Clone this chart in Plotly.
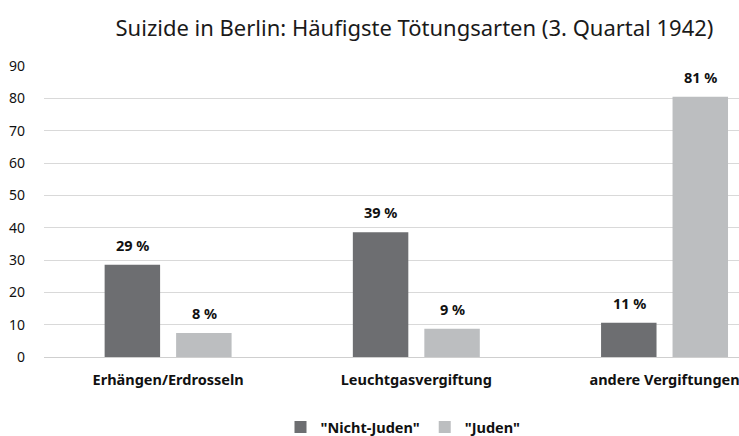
import plotly.graph_objects as go

categories = ["Erhängen/Erdrosseln", "Leuchtgasvergiftung", "andere Vergiftungen"]
series_names = ['"Nicht-Juden"', '"Juden"']
nicht_juden = [28.5, 38.6, 10.6]
juden = [7.4, 8.75, 80.5]
nicht_juden_labels = ["29 %", "39 %", "11 %"]
juden_labels = ["8 %", "9 %", "81 %"]
y_ticks = [0, 10, 20, 30, 40, 50, 60, 70, 80, 90]

DARK = "#6d6e71"
LIGHT = "#bcbec0"
FONT = "Noto Sans"
LAB = 14.5

fig = go.Figure()
fig.add_trace(go.Bar(name="<b>%s</b>" % series_names[0], x=categories, y=nicht_juden,
                     marker=dict(color=DARK, line=dict(width=0))))
fig.add_trace(go.Bar(name="<b>%s</b>" % series_names[1], x=categories, y=juden,
                     marker=dict(color=LIGHT, line=dict(width=0))))

annotations = []
for cat, v, lab in zip(categories, nicht_juden, nicht_juden_labels):
    annotations.append(dict(x=cat, y=v, text="<b>%s</b>" % lab, showarrow=False,
                            xshift=-35.5, yshift=20, xref="x", yref="y",
                            font=dict(family=FONT, size=LAB, color="#111111")))
for cat, v, lab in zip(categories, juden, juden_labels):
    annotations.append(dict(x=cat, y=v, text="<b>%s</b>" % lab, showarrow=False,
                            xshift=36, yshift=20, xref="x", yref="y",
                            font=dict(family=FONT, size=LAB, color="#111111")))

fig.update_layout(
    width=739, height=436,
    margin=dict(l=44, r=0, t=66, b=79),
    paper_bgcolor="white", plot_bgcolor="white",
    font=dict(family=FONT, size=LAB, color="#111111"),
    title=dict(text="Suizide in Berlin: Häufigste Tötungsarten (3. Quartal 1942)",
               xref="container", x=414.5 / 739, xanchor="center",
               yref="container", y=1 - 28 / 436, yanchor="middle",
               font=dict(family=FONT, size=22, color="#1a1a1a")),
    barmode="group", bargap=0.424, bargroupgap=0.224,
    showlegend=True,
    legend=dict(orientation="h", xref="container", x=403 / 739, xanchor="center",
                yref="container", y=1 - 427 / 436, yanchor="middle",
                font=dict(family=FONT, size=LAB, color="#111111"),
                traceorder="normal", itemwidth=30),
    annotations=annotations,
)
fig.update_xaxes(range=[-0.5, 2.3], showgrid=False, showline=False, ticks="",
                 automargin=False,
                 tickfont=dict(family=FONT, size=LAB, color="#111111"),
                 ticklabelstandoff=12,
                 tickvals=categories,
                 ticktext=["<b>%s</b>" % c for c in categories])
fig.update_yaxes(range=[0, 90], tickvals=y_ticks, showgrid=True, gridcolor="#d9d9d9",
                 automargin=False,
                 gridwidth=1, zeroline=True, zerolinecolor="#cfcfcf", zerolinewidth=1,
                 showline=False, ticks="", ticklabelstandoff=18,
                 tickfont=dict(family=FONT, size=14, color="#111111"))

fig.write_html("out.html", config={"displayModeBar": False},
               post_script="document.body.style.margin='0';")
